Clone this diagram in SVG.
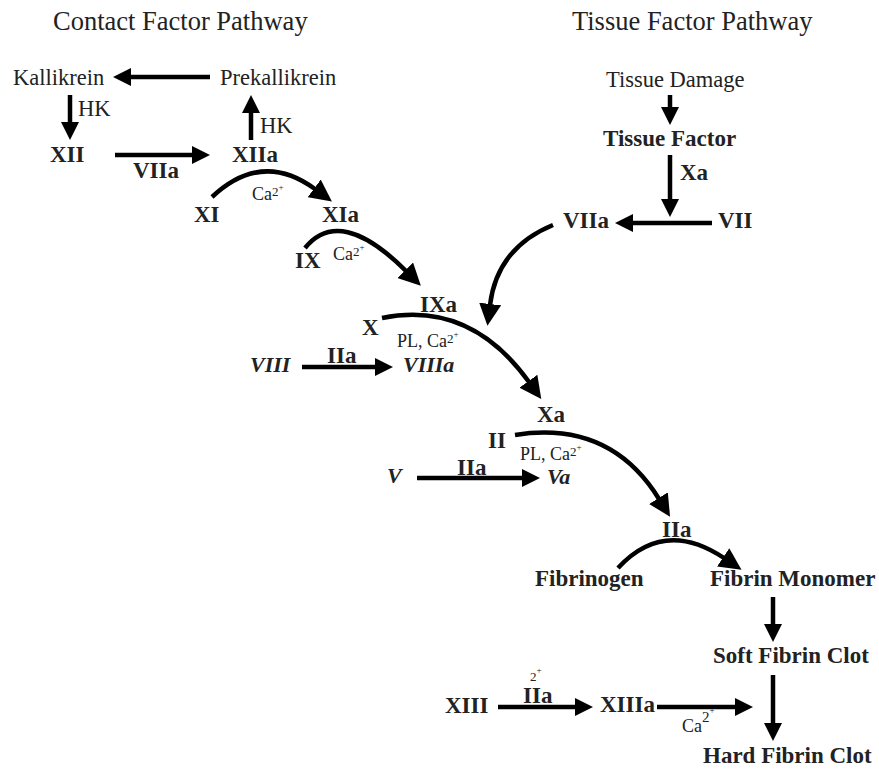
<svg xmlns="http://www.w3.org/2000/svg" width="879" height="770" viewBox="0 0 879 770">
<style>
text{font-family:"Liberation Serif","Times New Roman",serif;fill:#222}
.t{font-size:26.5px}
.r{font-size:22.5px}
.b{font-size:23px;font-weight:bold}
.bi{font-size:22px;font-weight:bold;font-style:italic}
.s{font-size:18px}
.c{fill:none;stroke:#000;stroke-width:4.5}
</style>
<defs>
<marker id="ah" viewBox="0 0 18 18" refX="1" refY="9" markerWidth="18" markerHeight="18" markerUnits="userSpaceOnUse" orient="auto"><path d="M0,0L18,9L0,18z" fill="#000"/></marker>
<marker id="ahc" viewBox="0 0 22 22" refX="1" refY="11" markerWidth="22" markerHeight="22" markerUnits="userSpaceOnUse" orient="auto"><path d="M0,0L22,11L0,22z" fill="#000"/></marker>
</defs>
<rect width="879" height="770" fill="#fff"/>
<g id="titles">
<text class="t" x="53" y="30">Contact Factor Pathway</text>
<text class="t" x="572" y="30">Tissue Factor Pathway</text>
</g>
<g id="connectors">
<path class="c" d="M210,77H130" marker-end="url(#ah)"/>
<path class="c" d="M70,95V123" marker-end="url(#ah)"/>
<path class="c" d="M115,155H193" stroke-width="5" marker-end="url(#ah)"/>
<path class="c" d="M251,140V112" marker-end="url(#ah)"/>
<path class="c" d="M670,95V108" marker-end="url(#ah)"/>
<path class="c" d="M670,155V200" marker-end="url(#ah)"/>
<path class="c" d="M712,223H632" marker-end="url(#ah)"/>
<path class="c" d="M302,367H376" marker-end="url(#ah)"/>
<path class="c" d="M417,478H523" marker-end="url(#ah)"/>
<path class="c" d="M773,597V625" marker-end="url(#ah)"/>
<path class="c" d="M773,675V724" marker-end="url(#ah)"/>
<path class="c" d="M498,707H576" marker-end="url(#ah)"/>
<path class="c" d="M657,707H736" marker-end="url(#ah)"/>
<path class="c" d="M212,197Q262,150 315,189" marker-end="url(#ahc)"/>
<path class="c" d="M305,248Q340,205 406,271" marker-end="url(#ahc)"/>
<path class="c" d="M382,318Q470,300 529,382" marker-end="url(#ahc)"/>
<path class="c" d="M553,225Q497,248 490,305" marker-end="url(#ahc)"/>
<path class="c" d="M515,435Q610,420 659,499" marker-end="url(#ahc)"/>
<path class="c" d="M618,568Q664,518 724,558" marker-end="url(#ahc)"/>
</g>
<g id="labels">
<text class="r" x="78" y="116">HK</text>
<text class="r" x="260" y="133">HK</text>
<text class="b" x="133" y="178">VIIa</text>
<text class="s" x="252" y="200">Ca<tspan font-size="13" dy="-4">2</tspan><tspan font-size="9" dy="-6">+</tspan></text>
<text class="s" x="333" y="260">Ca<tspan font-size="13" dy="-4">2</tspan><tspan font-size="9" dy="-6">+</tspan></text>
<text class="s" x="397" y="347">PL, Ca<tspan font-size="13" dy="-4">2</tspan><tspan font-size="9" dy="-6">+</tspan></text>
<text class="b" x="327" y="363">IIa</text>
<text class="b" x="680" y="180">Xa</text>
<text class="s" x="520" y="460">PL, Ca<tspan font-size="13" dy="-4">2</tspan><tspan font-size="9" dy="-6">+</tspan></text>
<text class="b" x="457" y="475">IIa</text>
<text x="530" y="681" font-size="13">2<tspan font-size="9" dy="-8">+</tspan></text>
<text class="b" x="523" y="703">IIa</text>
<text class="s" x="682" y="732" font-size="19">Ca<tspan font-size="15" dy="-10">2</tspan><tspan font-size="9" dy="-9">+</tspan></text>
</g>
<g id="kallikrein"><text class="r" x="13" y="85">Kallikrein</text></g>
<g id="prekallikrein"><text class="r" x="220" y="85">Prekallikrein</text></g>
<g id="xii"><text class="b" x="50" y="162">XII</text></g>
<g id="xiia"><text class="b" x="232" y="162">XIIa</text></g>
<g id="xi"><text class="b" x="194" y="222">XI</text></g>
<g id="xia"><text class="b" x="322" y="222">XIa</text></g>
<g id="ix"><text class="b" x="295" y="268">IX</text></g>
<g id="ixa"><text class="b" x="420" y="312">IXa</text></g>
<g id="x"><text class="b" x="362" y="335">X</text></g>
<g id="viii"><text class="bi" x="250" y="372">VIII</text></g>
<g id="viiia"><text class="bi" x="403" y="372">VIIIa</text></g>
<g id="tissue-damage"><text class="r" x="606" y="87">Tissue Damage</text></g>
<g id="tissue-factor"><text class="b" x="603" y="146">Tissue Factor</text></g>
<g id="vii"><text class="b" x="718" y="228">VII</text></g>
<g id="viia"><text class="b" x="563" y="228">VIIa</text></g>
<g id="xa"><text class="b" x="537" y="422">Xa</text></g>
<g id="ii"><text class="b" x="488" y="448">II</text></g>
<g id="v"><text class="bi" x="387" y="483">V</text></g>
<g id="va"><text class="bi" x="547" y="484">Va</text></g>
<g id="iia"><text class="b" x="662" y="537">IIa</text></g>
<g id="fibrinogen"><text class="b" x="535" y="586">Fibrinogen</text></g>
<g id="fibrin-monomer"><text class="b" x="710" y="586">Fibrin Monomer</text></g>
<g id="soft-clot"><text class="b" x="713" y="663">Soft Fibrin Clot</text></g>
<g id="hard-clot"><text class="b" x="703" y="763">Hard Fibrin Clot</text></g>
<g id="xiii"><text class="b" x="445" y="713">XIII</text></g>
<g id="xiiia"><text class="b" x="600" y="712">XIIIa</text></g>
</svg>
